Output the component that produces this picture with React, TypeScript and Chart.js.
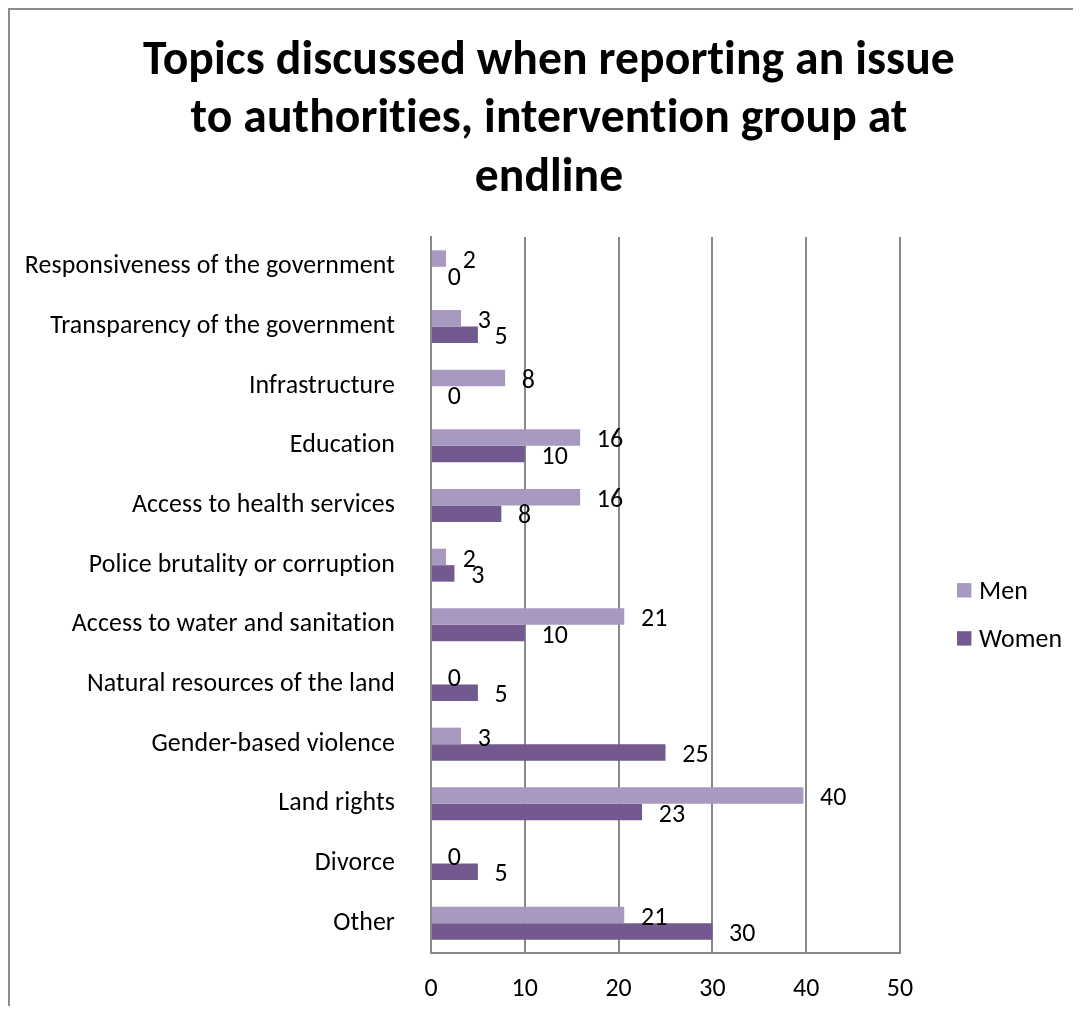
import React, { useEffect, useRef } from 'react';
import { Chart, registerables } from 'chart.js';

Chart.register(...registerables);

const categories = [
  'Responsiveness of the government',
  'Transparency of the government',
  'Infrastructure',
  'Education',
  'Access to health services',
  'Police brutality or corruption',
  'Access to water and sanitation',
  'Natural resources of the land',
  'Gender-based violence',
  'Land rights',
  'Divorce',
  'Other',
];
const menValues = [1.6, 3.2, 7.9, 15.9, 15.9, 1.6, 20.6, 0, 3.2, 39.7, 0, 20.6];
const womenValues = [0, 5, 0, 10, 7.5, 2.5, 10, 5, 25, 22.5, 5, 30];
const seriesNames = ['Men', 'Women'];
const titleLines = [
  'Topics discussed when reporting an issue',
  'to authorities, intervention group at',
  'endline',
];
const xMin = 0;
const xMax = 50;
const xStep = 10;

const FAMILY = 'Carlito, Lato, "Open Sans", sans-serif';
const MEN_COLOR = '#A899C0';
const WOMEN_COLOR = '#72598F';
const GRID_COLOR = '#898989';
const SPACING = '0.1px';

function noLigatures(c: any) {
  try {
    c.textRendering = 'optimizeSpeed';
  } catch (e) {}
  try {
    c.letterSpacing = SPACING;
  } catch (e) {}
}

function fitSize(text: string, weight: string, target: number) {
  const c = document.createElement('canvas').getContext('2d') as any;
  noLigatures(c);
  c.font = `${weight} 100px ${FAMILY}`;
  const w = c.measureText(text).width;
  return (100 * target) / w;
}

export default function App() {
  const ref = useRef<HTMLCanvasElement>(null);

  useEffect(() => {
    document.body.style.overflow = 'hidden';
    const H = 996;
    const labelSize = fitSize(categories[0], 'normal', 368);
    const titleSize = fitSize(titleLines[0], 'bold', 810);
    const font = { family: FAMILY, size: labelSize };

    const overlay = {
      id: 'overlay',
      beforeLayout(chart: any) {
        noLigatures(chart.ctx);
      },
      beforeDraw(chart: any) {
        noLigatures(chart.ctx);
      },
      afterDatasetsDraw(chart: any) {
        const ctx = chart.ctx;
        ctx.save();
        noLigatures(ctx);
        ctx.font = `${labelSize}px ${FAMILY}`;
        ctx.fillStyle = '#000';
        ctx.textAlign = 'left';
        ctx.textBaseline = 'alphabetic';
        const asc = ctx.measureText('0').actualBoundingBoxAscent;
        chart.data.datasets.forEach((ds: any, di: number) => {
          const meta = chart.getDatasetMeta(di);
          meta.data.forEach((bar: any, i: number) => {
            const v = ds.data[i] as number;
            ctx.fillText(String(Math.round(v)), bar.x + 16.7, bar.y + 1.2 + asc / 2);
          });
        });
        ctx.restore();
      },
      afterDraw(chart: any) {
        const ctx = chart.ctx;
        ctx.save();
        noLigatures(ctx);
        // title
        ctx.font = `bold ${titleSize}px ${FAMILY}`;
        ctx.fillStyle = '#000';
        ctx.textAlign = 'center';
        ctx.textBaseline = 'alphabetic';
        const baselines = [63.5, 122, 180.5];
        titleLines.forEach((line, i) => ctx.fillText(line, 539, baselines[i]));
        // legend
        ctx.font = `${labelSize}px ${FAMILY}`;
        ctx.textAlign = 'left';
        const capAsc = ctx.measureText('M').actualBoundingBoxAscent;
        const centers = [580.3, 628.4];
        chart.data.datasets.forEach((ds: any, i: number) => {
          const cy = centers[i];
          ctx.fillStyle = ds.backgroundColor;
          ctx.fillRect(947, cy - 7.2, 14.4, 14.4);
          ctx.fillStyle = '#000';
          ctx.fillText(ds.label, 969, cy + capAsc / 2);
        });
        ctx.restore();
      },
    };

    const chart = new Chart(ref.current as HTMLCanvasElement, {
      type: 'bar',
      data: {
        labels: categories,
        datasets: [
          {
            label: seriesNames[0],
            data: menValues,
            backgroundColor: MEN_COLOR,
            borderWidth: 0,
            categoryPercentage: 0.553,
            barPercentage: 1,
          },
          {
            label: seriesNames[1],
            data: womenValues,
            backgroundColor: WOMEN_COLOR,
            borderWidth: 0,
            categoryPercentage: 0.553,
            barPercentage: 1,
          },
        ],
      },
      options: {
        indexAxis: 'y',
        responsive: false,
        maintainAspectRatio: false,
        animation: false,
        devicePixelRatio: 1,
        layout: { padding: { top: 227, right: 181, bottom: 0, left: 0 } },
        plugins: {
          legend: { display: false },
          title: { display: false },
          tooltip: { enabled: false },
        },
        scales: {
          x: {
            type: 'linear',
            position: 'bottom',
            min: xMin,
            max: xMax,
            ticks: { stepSize: xStep, color: '#000', font, padding: 21 },
            grid: { display: true, color: GRID_COLOR, lineWidth: 2, drawTicks: false },
            border: { display: true, color: GRID_COLOR, width: 2 },
            afterFit: (scale: any) => {
              scale.height = H - 943;
            },
          },
          y: {
            type: 'category',
            position: 'left',
            ticks: { color: '#000', font, padding: 36, autoSkip: false },
            grid: { display: false, drawTicks: false },
            border: { display: true, color: GRID_COLOR, width: 2 },
            afterFit: (scale: any) => {
              scale.width = 421;
            },
          },
        },
      } as any,
      plugins: [overlay],
    });
    return () => chart.destroy();
  }, []);

  return (
    <div
      style={{
        width: 1071,
        height: 996,
        borderLeft: '2px solid #8c8c8c',
        borderTop: '2px solid #8c8c8c',
        overflow: 'hidden',
        background: '#fff',
      }}
    >
      <canvas ref={ref} width={1071} height={996} style={{ display: 'block', width: 1071, height: 996 }} />
    </div>
  );
}
